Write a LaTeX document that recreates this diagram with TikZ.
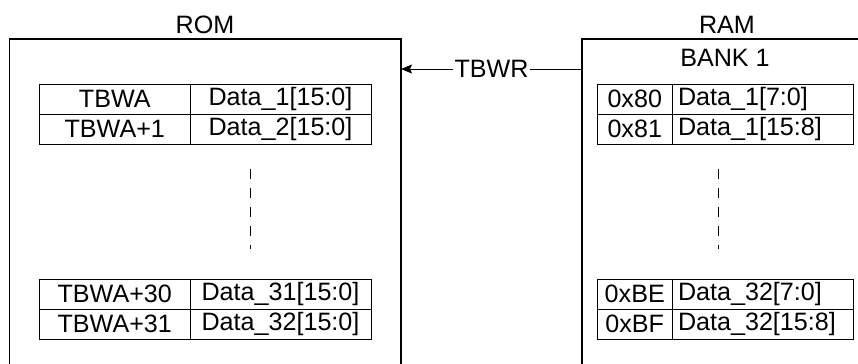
\documentclass[tikz,border=0pt]{standalone}
\usepackage{fontspec}
\setmainfont{Liberation Sans}
\usetikzlibrary{arrows.meta,positioning}
\tikzset{>={Stealth[length=0.22cm,width=0.18cm,inset=0.04cm]}}
\tikzset{
  memline/.style={line width=1.1pt},
  cell/.style={draw,line width=0.55pt,minimum height=0.6cm,inner sep=0pt,outer sep=0pt},
  keycell/.style={cell,minimum width=3.01cm},
  romdata/.style={cell,minimum width=3.62cm},
  addrcell/.style={cell,minimum width=1.51cm},
  ramdata/.style={cell,text width=3.39cm,inner xsep=0.11cm,align=left},
  gap/.style={dash pattern=on 0.2cm off 0.18cm,line width=0.55pt}
}
% one row of the ROM table: name, y, address, data
\newcommand{\romrow}[4]{%
  \node[keycell] (k#1) at (2.295,#2) {#3};
  \node[romdata,right=0pt of k#1] (d#1) {#4};
}
% one row of the RAM bank: name, y, address, data
\newcommand{\ramrow}[4]{%
  \node[addrcell] (a#1) at (12.695,#2) {#3};
  \node[ramdata,right=0pt of a#1] (b#1) {#4};
}

\begin{document}
\begin{tikzpicture}[font=\fontsize{14.3}{16}\selectfont]
\useasboundingbox (0,0) rectangle (17.16,7.26);
% the two memories, open at the bottom
\draw[memline] (0.19,-0.2) -- (0.19,6.48) -- (8.02,6.48) -- (8.02,-0.2);
\draw[memline] (17.4,6.48) -- (11.64,6.48) -- (11.64,-0.2);
\node (rom) at (4.10,6.76) {ROM};
\node (ram) at (14.54,6.76) {RAM};
\node (bank) at (14.50,6.10) {BANK 1};
\romrow{1}{5.28}{TBWA}{Data\_1[15:0]}
\romrow{2}{4.68}{TBWA+1}{Data\_2[15:0]}
\romrow{30}{1.38}{TBWA+30}{Data\_31[15:0]}
\romrow{31}{0.78}{TBWA+31}{Data\_32[15:0]}
\ramrow{1}{5.28}{0x80}{Data\_1[7:0]}
\ramrow{2}{4.68}{0x81}{Data\_1[15:8]}
\ramrow{30}{1.38}{0xBE}{Data\_32[7:0]}
\ramrow{31}{0.78}{0xBF}{Data\_32[15:8]}
\draw[gap] (5.01,3.88) -- (5.01,2.28);
\draw[gap] (14.36,3.88) -- (14.36,2.28);
% table base write
\coordinate (romport) at (8.02,5.88);
\coordinate (ramport) at (11.64,5.88);
\draw[<-,line width=0.55pt] (romport) -- (ramport)
  node[midway,fill=white,inner sep=0.04cm] (tbwr) {TBWR};
\end{tikzpicture}
\end{document}
